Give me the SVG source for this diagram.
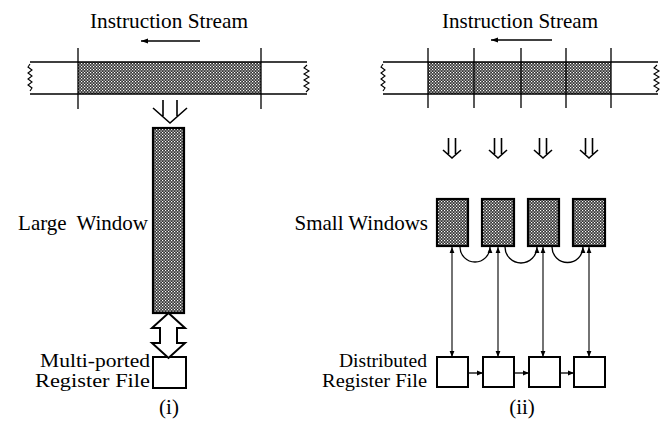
<svg xmlns="http://www.w3.org/2000/svg" width="668" height="423" viewBox="0 0 668 423">
<style>
text{font-family:"Liberation Serif","Times New Roman",serif;font-size:21px;fill:#000}
.two{font-size:18px}
.ln{fill:none;stroke:#000;stroke-width:1.3}
.thin{fill:none;stroke:#000;stroke-width:1.1}
.box{fill:#fff;stroke:#000;stroke-width:2}
.win{fill:url(#dots);stroke:#000;stroke-width:2.2}
.shade{fill:url(#dots);stroke:none}
.hol{fill:none;stroke:#000;stroke-width:1.6}
</style>
<defs>
<pattern id="dots" width="3" height="3" patternUnits="userSpaceOnUse">
<rect width="3" height="3" fill="#333"/>
<rect x="0" y="0" width="1.2" height="1.2" fill="#fff"/>
<rect x="1.5" y="1.5" width="1.2" height="1.2" fill="#fff"/>
</pattern>
<marker id="ah" viewBox="0 0 10 10" refX="10" refY="5" markerWidth="6" markerHeight="6" markerUnits="userSpaceOnUse" orient="auto-start-reverse">
<path d="M0,1 L10,5 L0,9 z" fill="#000"/>
</marker>
<marker id="ahs" viewBox="0 0 10 10" refX="10" refY="5" markerWidth="8" markerHeight="7" markerUnits="userSpaceOnUse" orient="auto">
<path d="M0,1.5 L10,5 L0,8.5 z" fill="#000"/>
</marker>
</defs>

<!-- (i) left -->
<g id="title-left">
<text x="90" y="28" textLength="158" lengthAdjust="spacingAndGlyphs">Instruction Stream</text>
</g>
<g id="stream-left">
<rect class="shade" x="78" y="62" width="183" height="32"/>
<path class="ln" d="M30,62 H307 M30,94 H307"/>
<path class="ln" d="M78,48 V109 M261,48 V109"/>
<path class="thin" d="M30,64 L28,67 L32,70 L28,73 L32,76 L28,79 L32,82 L28,85 L32,88 L30,91"/>
<path class="thin" d="M307,65 L304,68 L309,71 L304,74 L309,77 L304,80 L309,83 L304,86 L309,89 L306,92"/>
</g>
<g id="large-window">
<rect class="win" x="153" y="128" width="31" height="185"/>
<text x="148" y="230" text-anchor="end" word-spacing="5">Large Window</text>
</g>
<g id="regfile-left">
<rect class="box" x="153" y="357" width="33" height="31"/>
<text class="two" x="40" y="367" textLength="110" lengthAdjust="spacingAndGlyphs">Multi-ported</text>
<text class="two" x="35" y="387" textLength="115" lengthAdjust="spacingAndGlyphs">Register File</text>
</g>
<text id="label-i" x="169" y="414" font-size="20" text-anchor="middle">(i)</text>

<!-- (ii) right -->
<g id="title-right">
<text x="442" y="28" textLength="156" lengthAdjust="spacingAndGlyphs">Instruction Stream</text>
</g>
<g id="stream-right">
<rect class="shade" x="428" y="62" width="183" height="32"/>
<path class="ln" d="M383,62 H658 M383,94 H658"/>
<path class="ln" d="M428,48 V108 M474,48 V108 M521,48 V108 M566,48 V108 M611,48 V108"/>
<path class="thin" d="M383,64 L381,67 L385,70 L381,73 L385,76 L381,79 L385,82 L381,85 L385,88 L383,91"/>
<path class="thin" d="M657,65 L654,68 L659,71 L654,74 L659,77 L654,80 L659,83 L654,86 L659,89 L656,92"/>
</g>
<g id="small-window-1"><rect class="win" x="437" y="199" width="31" height="47"/></g>
<g id="small-window-2"><rect class="win" x="482" y="199" width="32" height="47"/></g>
<g id="small-window-3"><rect class="win" x="528" y="199" width="31" height="47"/></g>
<g id="small-window-4"><rect class="win" x="573" y="199" width="32" height="47"/></g>
<text id="label-small" x="428" y="230" font-size="20" text-anchor="end">Small Windows</text>
<g id="reg-1"><rect class="box" x="437" y="357" width="31" height="30"/></g>
<g id="reg-2"><rect class="box" x="483" y="357" width="31" height="30"/></g>
<g id="reg-3"><rect class="box" x="529" y="357" width="31" height="30"/></g>
<g id="reg-4"><rect class="box" x="574" y="357" width="31" height="30"/></g>
<g id="label-dist">
<text class="two" x="427" y="367" text-anchor="end" textLength="88" lengthAdjust="spacingAndGlyphs">Distributed</text>
<text class="two" x="427" y="387" text-anchor="end" textLength="105" lengthAdjust="spacingAndGlyphs">Register File</text>
</g>
<text id="label-ii" x="522" y="414" font-size="20" text-anchor="middle">(ii)</text>

<!-- connectors -->
<g id="connectors">
<path class="ln" d="M200,41 H141" marker-end="url(#ahs)"/>
<path class="ln" d="M552,40 H491" marker-end="url(#ahs)"/>
<path class="hol" d="M163,100 V116 M177,100 V116 M153,108 L170,123 L187,108"/>
<path class="hol" d="M448.5,138 V154 M455.5,138 V154 M443,150 L452,158 L461,150"/>
<path class="hol" d="M494.5,138 V154 M501.5,138 V154 M489,150 L498,158 L507,150"/>
<path class="hol" d="M539.5,138 V154 M546.5,138 V154 M534,150 L543,158 L552,150"/>
<path class="hol" d="M585.5,138 V154 M592.5,138 V154 M580,150 L589,158 L598,150"/>
<polygon points="168.5,313 185,328 177,328 177,343 185,343 168.5,358 152,343 160,343 160,328 152,328" fill="#fff" stroke="#000" stroke-width="2"/>
<path class="thin" d="M452,247 V357" marker-start="url(#ah)" marker-end="url(#ah)"/>
<path class="thin" d="M498,247 V357" marker-start="url(#ah)" marker-end="url(#ah)"/>
<path class="thin" d="M543,247 V357" marker-start="url(#ah)" marker-end="url(#ah)"/>
<path class="thin" d="M589,247 V357" marker-start="url(#ah)" marker-end="url(#ah)"/>
<path class="ln" d="M460,247 A15,15 0 0 0 490,247" marker-end="url(#ah)"/>
<path class="ln" d="M505,247 A16,16 0 0 0 537,247" marker-end="url(#ah)"/>
<path class="ln" d="M552,247 A15.5,15.5 0 0 0 583,247" marker-end="url(#ah)"/>
<path class="ln" d="M468,373 H483" marker-end="url(#ah)"/>
<path class="ln" d="M514,373 H529" marker-end="url(#ah)"/>
<path class="ln" d="M560,373 H574" marker-end="url(#ah)"/>
</g>
</svg>
